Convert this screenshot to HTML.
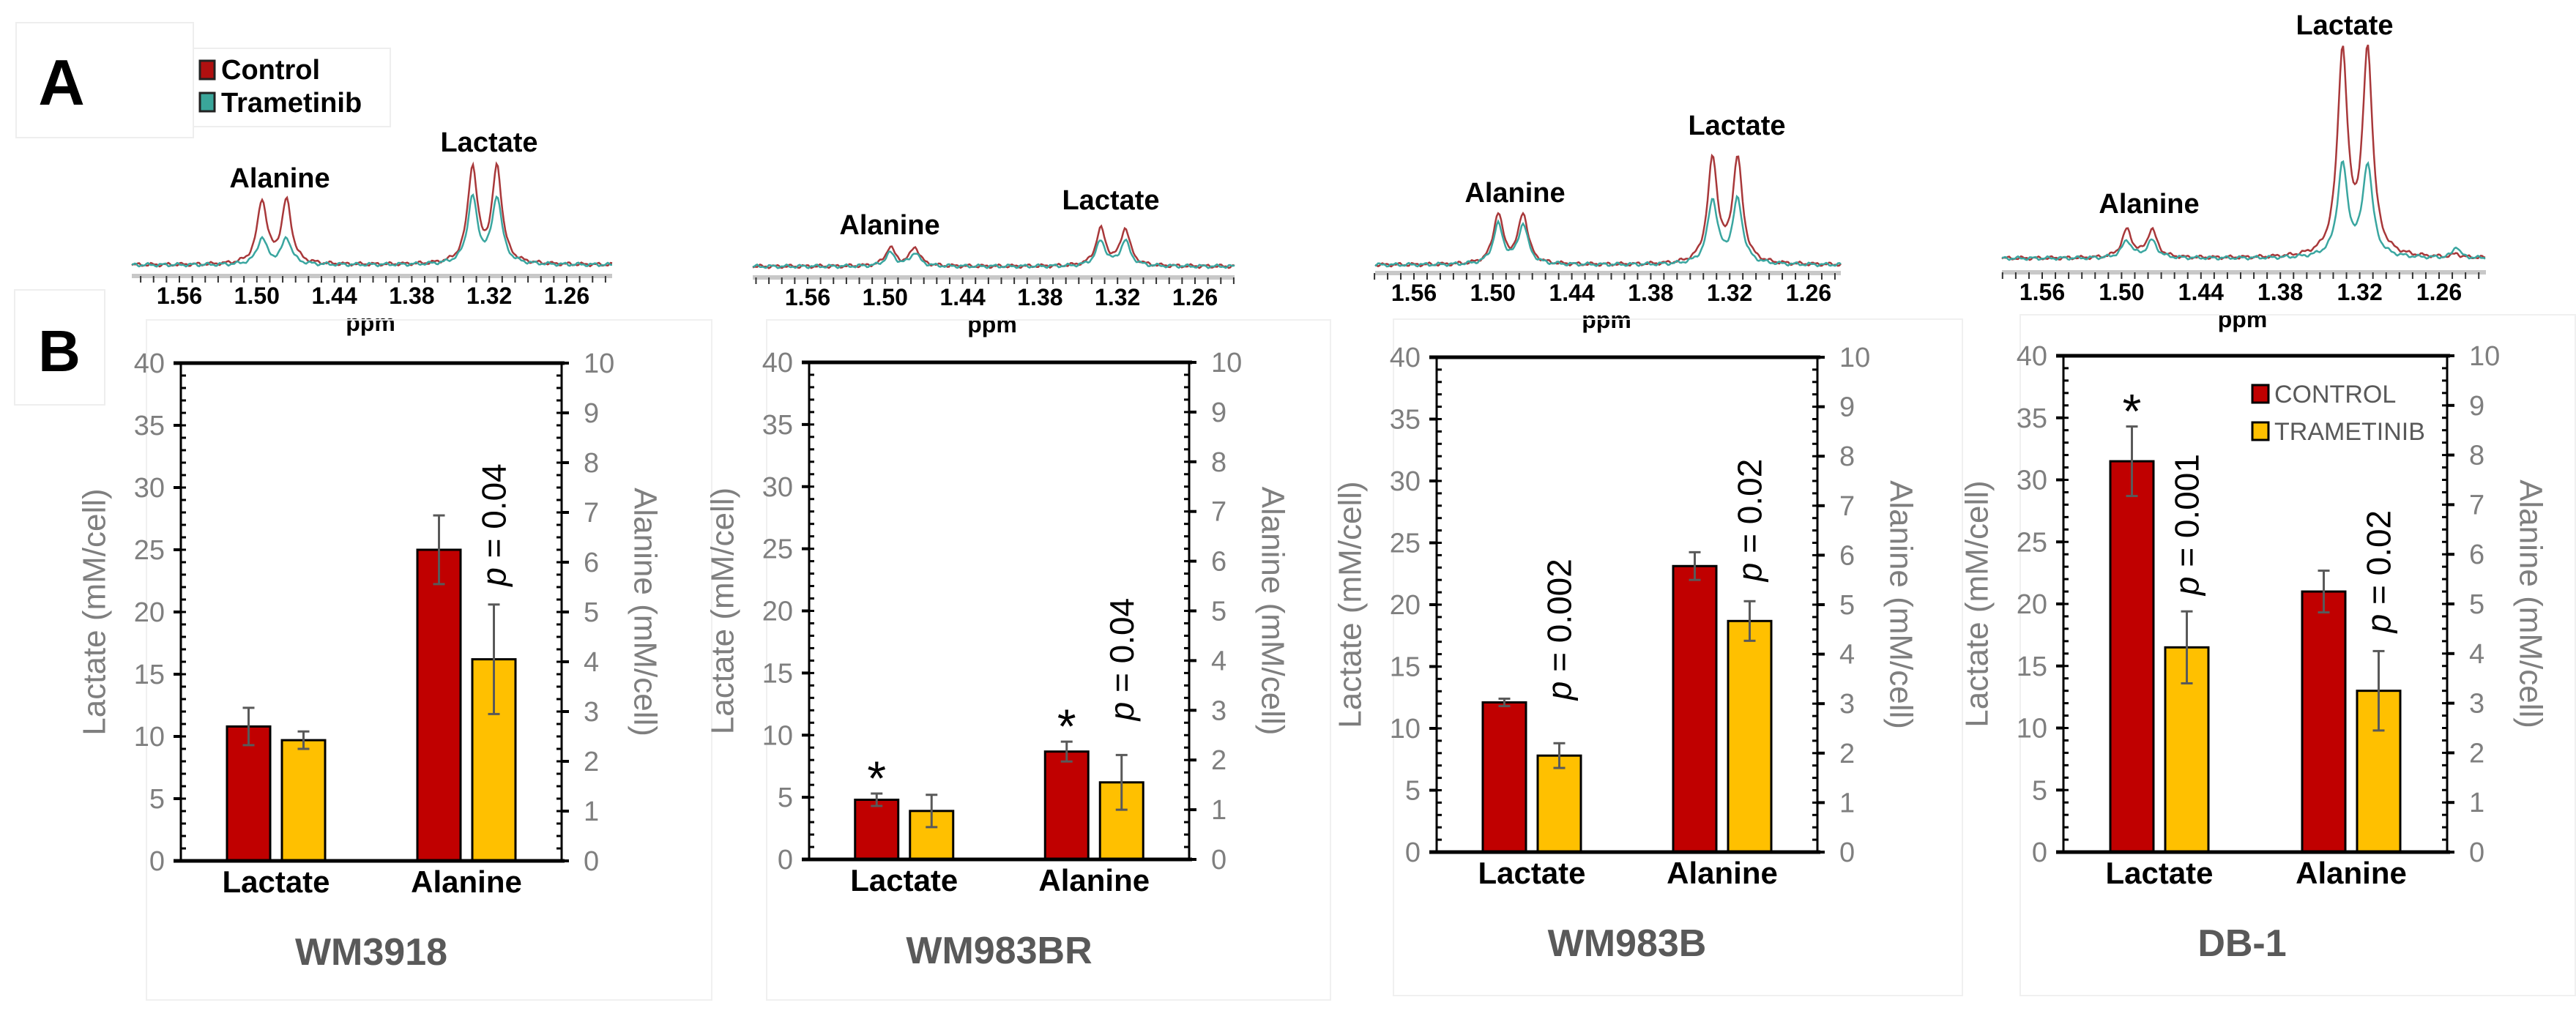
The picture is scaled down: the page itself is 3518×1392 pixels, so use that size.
<!DOCTYPE html>
<html><head><meta charset="utf-8"><style>
html,body{margin:0;padding:0;background:#fff;}
svg{display:block;}
.n{font-family:"Liberation Sans Narrow","Liberation Sans",sans-serif;}
.s{font-family:"Liberation Sans",sans-serif;}
</style></head><body>
<svg id="fig" width="3518" height="1392" viewBox="0 0 3518 1392" xmlns="http://www.w3.org/2000/svg">
<rect x="0" y="0" width="3518" height="1392" fill="#fff"/>
<rect x="22" y="31" width="242" height="157" fill="#fff" stroke="#eee" stroke-width="2"/>
<text x="84" y="143" class="s" font-size="88" font-weight="bold" text-anchor="middle">A</text>
<rect x="20" y="396" width="123" height="157" fill="#fff" stroke="#eee" stroke-width="2"/>
<text x="81" y="507" class="s" font-size="80" font-weight="bold" text-anchor="middle">B</text>
<g>
<rect x="264" y="66" width="269" height="107" fill="#fff" stroke="#eee" stroke-width="2"/>
<rect x="273" y="83" width="20" height="25" fill="#b01010" stroke="#222" stroke-width="3"/>
<text x="302" y="108" class="n" font-size="38" font-weight="bold">Control</text>
<rect x="273" y="127" width="20" height="25" fill="#3aa69a" stroke="#222" stroke-width="3"/>
<text x="302" y="153" class="n" font-size="38" font-weight="bold">Trametinib</text>
</g>
<g id="spectra"></g>
<g id="bars"></g>
</svg>
<script>
// ---- bar chart data ----
const panelNames = ["WM3918", "WM983BR", "WM983B", "DB-1"];
const categories = ["Lactate", "Alanine"];
const lactateCtrl = [10.8, 4.8, 12.1, 31.5];
const lactateCtrlErr = [1.5, 0.5, 0.3, 2.8];
const lactateTram = [9.7, 3.9, 7.8, 16.5];
const lactateTramErr = [0.7, 1.3, 1.0, 2.9];
const alanineCtrl = [6.25, 2.17, 5.78, 5.25];
const alanineCtrlErr = [0.69, 0.2, 0.28, 0.42];
const alanineTram = [4.05, 1.55, 4.67, 3.25];
const alanineTramErr = [1.1, 0.55, 0.4, 0.8];
const leftTicks = [0, 5, 10, 15, 20, 25, 30, 35, 40];
const rightTicks = [0, 1, 2, 3, 4, 5, 6, 7, 8, 9, 10];
const pPanel = [0, 1, 2, 2, 3, 3];
const pCat = [1, 1, 0, 1, 0, 1];
const pText = ["0.04", "0.04", "0.002", "0.02", "0.001", "0.02"];
const starPanel = [1, 1, 3];
const starCat = [0, 1, 0];
// ---- spectrum data ----
const ppmTicks = [1.56, 1.50, 1.44, 1.38, 1.32, 1.26];
const alaPeaksPpm = [1.496, 1.477];
const lacPeaksPpm = [1.333, 1.314];
const specAlaCtrl = [91, 27, 72, 40];
const specAlaTram = [38, 19, 57, 25];
const specLacCtrl = [138, 53, 150, 293];
const specLacTram = [96, 36, 92, 133];
const specSmallPpm = 1.247;
const specSmallCtrl = [0, 0, 0, 5];
const specSmallTram = [0, 0, 0, 16];

const NS = "http://www.w3.org/2000/svg";
function mk(tag, attrs, parent) {
  const e = document.createElementNS(NS, tag);
  for (const k in attrs) e.setAttribute(k, attrs[k]);
  parent.appendChild(e);
  return e;
}

// ---------- spectra ----------
const specLayout = [
  {x156: 245, x126: 774, xa: 180, xb: 836, base: 362, axisY: 377, alaLab: [382, 256], lacLab: [668, 207]},
  {x156: 1103, x126: 1632, xa: 1028, xb: 1686, base: 364, axisY: 379, alaLab: [1215, 320], lacLab: [1517, 286]},
  {x156: 1931, x126: 2470, xa: 1878, xb: 2514, base: 362, axisY: 373, alaLab: [2069, 276], lacLab: [2372, 184]},
  {x156: 2789, x126: 3331, xa: 2734, xb: 3395, base: 353, axisY: 372, alaLab: [2935, 291], lacLab: [3202, 47]}
];
const spectraG = document.getElementById("spectra");
function lor(p, c, g) { return 1 / (1 + Math.pow((p - c) / g, 2)); }
specLayout.forEach((L, i) => {
  const g = mk("g", {}, spectraG);
  
  
  const pxPerPpm = (L.x126 - L.x156) / 0.30;
  const xOf = p => L.x156 + (1.56 - p) * pxPerPpm;
  const pOf = x => 1.56 - (x - L.x156) / pxPerPpm;
  const gam = 0.0045, norm = 1.053;
  function curve(ala, lac, small, phase) {
    let d = "";
    for (let x = L.xa; x <= L.xb; x += 2) {
      const p = pOf(x);
      let h = ala * (lor(p, alaPeaksPpm[0], gam) + lor(p, alaPeaksPpm[1], gam)) / norm
            + lac * (lor(p, lacPeaksPpm[0], gam) + lor(p, lacPeaksPpm[1], gam)) / norm
            + small * lor(p, specSmallPpm, 0.003);
      h += 1.6 * Math.sin(x * 0.31 + phase) + 1.0 * Math.sin(x * 0.77 + phase * 2);
      d += (d ? "L" : "M") + x + "," + (L.base - h).toFixed(1);
    }
    return d;
  }
  const c1 = mk("path", {d: curve(specAlaCtrl[i], specLacCtrl[i], specSmallCtrl[i], 0), fill: "none", stroke: "#a8383a", "stroke-width": 2.5}, g);
  
  
  const c2 = mk("path", {d: curve(specAlaTram[i], specLacTram[i], specSmallTram[i], 1.7), fill: "none", stroke: "#3aa6a0", "stroke-width": 2.5}, g);
  
  
  const ax = mk("rect", {x: L.xa, y: L.axisY - 3, width: L.xb - L.xa, height: 6, fill: "#c8c8c8"}, g);
  
  
  for (let k = 0; k <= 40; k++) {
    const p = 1.60 - k * 0.01;
    const x = xOf(p);
    if (x < L.xa - 1 || x > L.xb + 1) continue;
    mk("line", {x1: x, x2: x, y1: L.axisY, y2: L.axisY + 9, stroke: "#333", "stroke-width": 2}, g);
  }
  ppmTicks.forEach(t => {
    const tl = mk("text", {x: xOf(t), y: L.axisY + 38, "font-size": 32, "font-weight": "bold", "text-anchor": "middle", class: "n"}, g);
    tl.textContent = t.toFixed(2);
    
    
  });
  const pp = mk("text", {x: (L.xa + L.xb) / 2 - 2, y: L.axisY + 75, "font-size": 32, "font-weight": "bold", "text-anchor": "middle", class: "n"}, g);
  pp.textContent = "ppm";
  
  
  const a = mk("text", {x: L.alaLab[0], y: L.alaLab[1], "font-size": 38, "font-weight": "bold", "text-anchor": "middle", class: "n"}, g);
  a.textContent = "Alanine";
  
  
  const lc = mk("text", {x: L.lacLab[0], y: L.lacLab[1], "font-size": 38, "font-weight": "bold", "text-anchor": "middle", class: "n"}, g);
  lc.textContent = "Lactate";
  
  
});

// ---------- bar charts ----------
const barLayout = [
  {l: 247, r: 767, t: 496, b: 1176, box: [200, 437, 772, 929]},
  {l: 1105, r: 1624, t: 495, b: 1174, box: [1047, 437, 770, 929]},
  {l: 1962, r: 2482, t: 488, b: 1164, box: [1903, 436, 777, 924]},
  {l: 2818, r: 3342, t: 486, b: 1164, box: [2759, 430, 758, 930]}
];
const pGap = [[25, 25], [25, 47], [59, 27], [22, 25]];
const barsG = document.getElementById("bars");
const CTRL = "#c00000", TRAM = "#ffc000";
barLayout.forEach((L, i) => {
  const g = mk("g", {}, barsG);
  
  
  const bx = mk("rect", {x: L.box[0], y: L.box[1], width: L.box[2], height: L.box[3], fill: "none", stroke: "#f0f0f0", "stroke-width": 2}, g);
  
  
  const yL = v => L.b - v / 40 * (L.b - L.t);
  const yR = v => L.b - v / 10 * (L.b - L.t);
  const band = (L.r - L.l) / categories.length;
  const bw = 59, gap = 16;
  const bx0 = c => L.l + band * c + band / 2 - (2 * bw + gap) / 2;
  for (let v = 0; v <= 40; v++) {
    mk("line", {x1: L.l, x2: L.l + 7, y1: yL(v), y2: yL(v), stroke: "#000", "stroke-width": 3}, g);
    mk("line", {x1: L.r - 7, x2: L.r, y1: yL(v), y2: yL(v), stroke: "#000", "stroke-width": 3}, g);
  }
  leftTicks.forEach(v => {
    mk("line", {x1: L.l - 10, x2: L.l, y1: yL(v), y2: yL(v), stroke: "#000", "stroke-width": 4}, g);
    const t = mk("text", {x: L.l - 22, y: yL(v) + 13, "font-size": 38, fill: "#7f7f7f", "text-anchor": "end", class: "n"}, g);
    t.textContent = v;
    
    
  });
  rightTicks.forEach(v => {
    mk("line", {x1: L.r, x2: L.r + 10, y1: yR(v), y2: yR(v), stroke: "#000", "stroke-width": 4}, g);
    const t = mk("text", {x: L.r + 30, y: yR(v) + 13, "font-size": 38, fill: "#7f7f7f", "text-anchor": "start", class: "n"}, g);
    t.textContent = v;
    
    
  });
  const vals = [[lactateCtrl[i], lactateTram[i]], [alanineCtrl[i] * 4, alanineTram[i] * 4]];
  const errs = [[lactateCtrlErr[i], lactateTramErr[i]], [alanineCtrlErr[i] * 4, alanineTramErr[i] * 4]];
  const names = [["bar-lactate-control", "bar-lactate-trametinib"], ["bar-alanine-control", "bar-alanine-trametinib"]];
  categories.forEach((cat, c) => {
    [0, 1].forEach(s => {
      const x = bx0(c) + s * (bw + gap);
      const v = vals[c][s], e = errs[c][s];
      const r = mk("rect", {x: x, y: yL(v), width: bw, height: L.b - yL(v), fill: s ? TRAM : CTRL, stroke: "#000", "stroke-width": 3}, g);
      
      
      const cx = x + bw / 2;
      const eb = mk("g", {stroke: "#595959", "stroke-width": 3}, g);
      
      
      mk("line", {x1: cx, x2: cx, y1: yL(v + e), y2: yL(v - e)}, eb);
      mk("line", {x1: cx - 8, x2: cx + 8, y1: yL(v + e), y2: yL(v + e)}, eb);
      mk("line", {x1: cx - 8, x2: cx + 8, y1: yL(v - e), y2: yL(v - e)}, eb);
    });
    const cl = mk("text", {x: L.l + band * c + band / 2, y: L.b + 43, "font-size": 42, "font-weight": "bold", "text-anchor": "middle", class: "n"}, g);
    cl.textContent = cat;
    
    
  });
  mk("line", {x1: L.l - 10, x2: L.r + 4, y1: L.t, y2: L.t, stroke: "#000", "stroke-width": 5}, g);
  mk("line", {x1: L.l - 10, x2: L.r + 4, y1: L.b, y2: L.b, stroke: "#000", "stroke-width": 5}, g);
  mk("line", {x1: L.l, x2: L.l, y1: L.t, y2: L.b, stroke: "#000", "stroke-width": 3}, g);
  mk("line", {x1: L.r, x2: L.r, y1: L.t, y2: L.b, stroke: "#000", "stroke-width": 3}, g);
  const my = (L.t + L.b) / 2;
  const lt = mk("text", {x: 0, y: 0, transform: "translate(" + (L.l - 118) + "," + my + ") rotate(-90)", "font-size": 44, fill: "#7f7f7f", "text-anchor": "middle", "dominant-baseline": "central", class: "s"}, g);
  lt.textContent = "Lactate (mM/cell)";
  
  
  const rt = mk("text", {x: 0, y: 0, transform: "translate(" + (L.r + 114) + "," + my + ") rotate(90)", "font-size": 44, fill: "#7f7f7f", "text-anchor": "middle", "dominant-baseline": "central", class: "s"}, g);
  rt.textContent = "Alanine (mM/cell)";
  
  
  const ti = mk("text", {x: L.l + (L.r - L.l) / 2 + (i === 3 ? -18 : 0), y: L.b + 142, "font-size": 52, "font-weight": "bold", fill: "#595959", "text-anchor": "middle", class: "n"}, g);
  ti.textContent = panelNames[i];
  
  
  pPanel.forEach((pp, k) => {
    if (pp !== i) return;
    const c = pCat[k];
    const x = bx0(c) + bw + gap + bw / 2;
    const top = yL(vals[c][1] + errs[c][1]) - pGap[i][c];
    const pt = mk("text", {x: 0, y: 0, transform: "translate(" + x + "," + top + ") rotate(-90)", "font-size": 46, "text-anchor": "start", "dominant-baseline": "central", class: "s"}, g);
    const ts = mk("tspan", {"font-style": "italic"}, pt);
    ts.textContent = "p";
    const ts2 = mk("tspan", {}, pt);
    ts2.textContent = " = " + pText[k];
    
    
  });
  starPanel.forEach((sp, k) => {
    if (sp !== i) return;
    const c = starCat[k];
    const x = bx0(c) + bw / 2;
    const st = mk("text", {x: x, y: yL(vals[c][0] + errs[c][0]) + 2, "font-size": 66, "text-anchor": "middle", class: "s"}, g);
    st.textContent = "*";
    
    
  });
  if (i === 3) {
    const lg = mk("g", {}, g);
    
    
    mk("rect", {x: 3076, y: 526, width: 22, height: 24, fill: CTRL, stroke: "#000", "stroke-width": 3}, lg);
    const t1 = mk("text", {x: 3106, y: 550, "font-size": 34, fill: "#595959", class: "n"}, lg);
    t1.textContent = "CONTROL";
    
    
    mk("rect", {x: 3076, y: 577, width: 22, height: 24, fill: TRAM, stroke: "#000", "stroke-width": 3}, lg);
    const t2 = mk("text", {x: 3106, y: 601, "font-size": 34, fill: "#595959", class: "n"}, lg);
    t2.textContent = "TRAMETINIB";
    
    
  }
});
</script>
</body></html>
